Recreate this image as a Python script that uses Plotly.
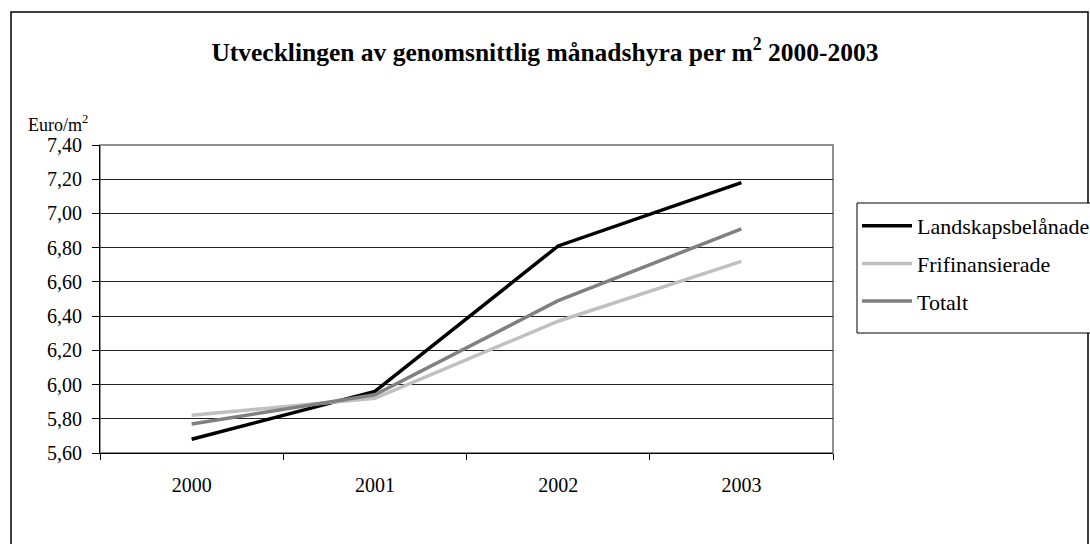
import plotly.graph_objects as go

# Average monthly rent per square metre, 2000-2003 (euro)
years = ["2000", "2001", "2002", "2003"]
landskapsbelanade = [5.68, 5.96, 6.81, 7.18]
frifinansierade = [5.82, 5.92, 6.37, 6.72]
totalt = [5.77, 5.94, 6.49, 6.91]

series_names = ["Landskapsbelånade", "Frifinansierade", "Totalt"]
series_values = [landskapsbelanade, frifinansierade, totalt]
series_colors = ["#000000", "#c0c0c0", "#808080"]

W, H = 1090, 544
ML, MR, MT, MB = 100, 257, 145, 91
PW, PH = W - ML - MR, H - MT - MB

FONT = "Liberation Serif"

def px_x(x):
    return (x - ML) / PW

def px_y(y):
    return (H - MB - y) / PH

fig = go.Figure()
for i, (name, vals, col) in enumerate(zip(series_names, series_values, series_colors)):
    fig.add_trace(go.Scatter(
        x=years, y=vals, name=name, mode="lines",
        line=dict(color=col, width=3.5),
        legendgroup=f"g{i}",
    ))

fig.update_layout(
    width=W, height=H,
    margin=dict(l=ML, r=MR, t=MT, b=MB, autoexpand=False),
    paper_bgcolor="white", plot_bgcolor="white",
    separators=", ",
    font=dict(family=FONT, size=20, color="black"),
    title=dict(
        text="<b>Utvecklingen av genomsnittlig månadshyra per m<sup>2</sup> 2000-2003</b>",
        font=dict(family=FONT, size=25.5, color="black"),
        x=0.5, xref="container", xanchor="center",
        y=(H - 52) / H, yref="container", yanchor="middle",
    ),
    showlegend=True,
    legend=dict(
        x=px_x(857), y=px_y(205), xanchor="left", yanchor="top",
        borderwidth=0, bgcolor="rgba(0,0,0,0)",
        font=dict(family=FONT, size=22, color="black"),
        traceorder="grouped", tracegroupgap=6,
        itemwidth=50,
    ),
    xaxis=dict(
        type="category", tickson="boundaries", range=[-0.5, 3.5],
        ticks="outside", ticklen=6, tickcolor="black", tickwidth=1,
        showline=True, linecolor="black", linewidth=1,
        showgrid=False, ticklabelstandoff=14,
        tickfont=dict(family=FONT, size=20, color="black"),
    ),
    yaxis=dict(
        range=[5.6, 7.4], dtick=0.2, tick0=5.6, tickformat=".2f",
        ticks="outside", ticklen=7, tickcolor="black", tickwidth=1,
        showline=True, linecolor="black", linewidth=1,
        showgrid=True, gridcolor="#202020", gridwidth=1,
        zeroline=False, ticklabelstandoff=6,
        tickfont=dict(family=FONT, size=20, color="black"),
    ),
    shapes=[
        # plot-area frame (grey top and right edges)
        dict(type="rect", xref="paper", yref="paper", x0=0, x1=1, y0=0, y1=1,
             line=dict(color="#909090", width=2), layer="below"),
        # outer chart border
        dict(type="rect", xref="paper", yref="paper",
             x0=px_x(11), x1=px_x(1088), y0=px_y(H + 20), y1=px_y(12),
             line=dict(color="black", width=1.5), layer="below"),
        # legend frame, running past the chart's right edge
        dict(type="rect", xref="paper", yref="paper",
             x0=px_x(857), x1=px_x(1100), y0=px_y(333), y1=px_y(203),
             line=dict(color="black", width=1), fillcolor="white", layer="below"),
    ],
    annotations=[
        dict(text="Euro/m<sup>2</sup>", xref="paper", yref="paper",
             x=px_x(26), y=px_y(123), xanchor="left", yanchor="middle",
             showarrow=False, font=dict(family=FONT, size=18, color="black")),
    ],
)

fig.write_html("out.html")
